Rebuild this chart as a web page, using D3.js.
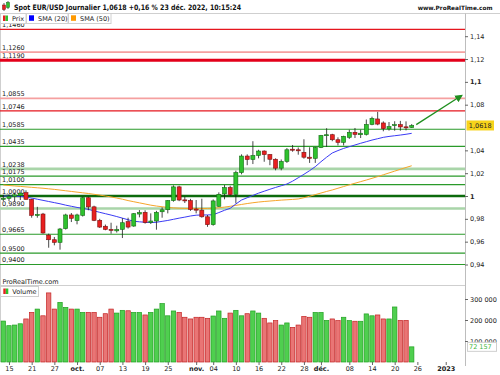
<!DOCTYPE html>
<html>
<head>
<meta charset="utf-8">
<script src="https://cdn.jsdelivr.net/npm/d3@7"></script>
<style>
  body { margin: 0; background: #fff; }
  svg { display: block; font-family: "DejaVu Sans", sans-serif; }
</style>
</head>
<body>
<script>
// séance du 14 sept. au 23 déc. 2022 (73 bougies)
var dates = ["14/09","15/09","16/09","19/09","20/09","21/09","22/09","23/09","26/09","27/09",
  "28/09","29/09","30/09","03/10","04/10","05/10","06/10","07/10","10/10","11/10",
  "12/10","13/10","14/10","17/10","18/10","19/10","20/10","21/10","24/10","25/10",
  "26/10","27/10","28/10","31/10","01/11","02/11","03/11","04/11","07/11","08/11",
  "09/11","10/11","11/11","14/11","15/11","16/11","17/11","18/11","21/11","22/11",
  "23/11","24/11","25/11","28/11","29/11","30/11","01/12","02/12","05/12","06/12",
  "07/12","08/12","09/12","12/12","13/12","14/12","15/12","16/12","19/12","20/12",
  "21/12","22/12","23/12"];

var open = [.9975,.9980,.9995,1.0005,1.0029,.9971,.9830,.9842,.9658,.9617,
  .9594,.9714,.9834,.9785,.9831,.9985,.9905,.9787,.9735,.9708,
  .9695,.9708,.9775,.9737,.9842,.9857,.9768,.9781,.9862,.9880,
  .9960,1.0080,.9966,.9960,.9886,.9876,.9818,.9749,.9910,1.0018,
  1.0074,1.0013,1.0205,1.0350,1.0320,1.0355,1.0394,1.0363,1.0322,1.0244,
  1.0303,1.0410,1.0405,1.0383,1.0340,1.0330,1.0425,1.0530,1.0537,1.0493,
  1.0470,1.0514,1.0558,1.0537,1.0540,1.0627,1.0675,1.0640,1.0588,1.0618,
  1.0625,1.0606,1.0600];
var high = [1.0010,1.0015,1.0030,1.0030,1.0050,.9976,.9905,.9852,.9670,.9641,
  .9720,.9845,.9851,.9845,.9995,.9995,.9915,.9800,.9750,.9766,
  .9740,.9806,.9810,.9850,.9877,.9875,.9848,.9870,.9900,.9965,
  1.0093,1.0090,.9994,.9975,.9965,.9976,.9834,.9970,1.0032,1.0096,
  1.0090,1.0222,1.0365,1.0365,1.0480,1.0405,1.0400,1.0368,1.0330,1.0320,
  1.0420,1.0447,1.0425,1.0497,1.0427,1.0430,1.0535,1.0594,1.0545,1.0514,
  1.0528,1.0581,1.0596,1.0581,1.0670,1.0695,1.0737,1.0654,1.0648,1.0655,
  1.0658,1.0654,1.0630];
var low = [.9955,.9955,.9950,.9965,.9968,.9810,.9810,.9670,.9547,.9568,
  .9530,.9706,.9772,.9752,.9820,.9875,.9780,.9720,.9700,.9670,
  .9680,.9632,.9715,.9730,.9813,.9758,.9755,.9705,.9810,.9848,
  .9950,.9955,.9939,.9870,.9848,.9810,.9730,.9740,.9905,.9971,
  1.0000,.9936,1.0190,1.0270,1.0280,1.0330,1.0300,1.0270,1.0225,1.0225,
  1.0290,1.0388,1.0362,1.0327,1.0290,1.0290,1.0420,1.0430,1.0480,1.0443,
  1.0443,1.0500,1.0508,1.0508,1.0530,1.0620,1.0620,1.0567,1.0573,1.0572,
  1.0572,1.0575,1.0596];
var close = [.9980,.9995,1.0010,1.0025,.9971,.9831,.9838,.9676,.9617,.9594,
  .9711,.9834,.9805,.9834,.9985,.9905,.9787,.9728,.9708,.9700,
  .9706,.9766,.9728,.9845,.9855,.9768,.9781,.9857,.9879,.9960,
  1.0080,.9965,.9962,.9882,.9876,.9818,.9749,.9957,1.0015,1.0074,
  1.0013,1.0205,1.0350,1.0320,1.0355,1.0394,1.0363,1.0322,1.0244,1.0303,
  1.0405,1.0404,1.0396,1.0340,1.0330,1.0425,1.0530,1.0537,1.0493,1.0470,
  1.0523,1.0558,1.0540,1.0550,1.0627,1.0680,1.0630,1.0590,1.0608,1.0625,
  1.0605,1.0598,1.0618];

var volume = [195000,173000,176000,182000,205000,236000,252000,220000,329000,252000,
  284000,260000,252000,252000,236000,236000,236000,213000,230000,252000,
  233000,246000,244000,236000,236000,224000,236000,252000,278000,220000,
  243000,236000,213000,205000,213000,213000,208000,219000,243000,208000,
  233000,246000,220000,230000,243000,233000,208000,186000,197000,176000,
  186000,165000,176000,217000,213000,236000,236000,198000,205000,197000,
  213000,197000,194000,194000,229000,220000,224000,205000,205000,262000,
  198000,198000,72157];

// moyennes mobiles
var sma20 = [1.0000,.9999,.9998,.9997,.9990,.9982,.9972,.9962,.9952,.9942,
  .9932,.9920,.9910,.9900,.9892,.9883,.9870,.9857,.9845,.9833,
  .9820,.9806,.9792,.9779,.9774,.9770,.9767,.9770,.9778,.9786,
  .9796,.9806,.9815,.9825,.9832,.9834,.9834,.9836,.9855,.9875,
  .9892,.9930,.9965,.9985,1.0005,1.0025,1.0042,1.0059,1.0075,1.0090,
  1.0105,1.0130,1.0160,1.0190,1.0222,1.0257,1.0300,1.0340,1.0377,1.0398,
  1.0417,1.0432,1.0447,1.0462,1.0476,1.0490,1.0502,1.0514,1.0522,1.0528,
  1.0534,1.0541,1.0549];
var sma50 = [1.0096,1.0092,1.0088,1.0084,1.0080,1.0076,1.0072,1.0068,1.0063,1.0058,
  1.0052,1.0046,1.0040,1.0034,1.0028,1.0022,1.0015,1.0008,1.0000,.9992,
  .9982,.9972,.9960,.9950,.9940,.9930,.9920,.9912,.9906,.9900,
  .9896,.9893,.9891,.9890,.9890,.9890,.9891,.9893,.9897,.9903,
  .9910,.9918,.9926,.9934,.9941,.9947,.9952,.9956,.9960,.9964,
  .9967,.9970,.9974,.9985,.9998,1.0012,1.0026,1.0040,1.0053,1.0068,
  1.0083,1.0098,1.0112,1.0126,1.0140,1.0155,1.0170,1.0186,1.0202,1.0218,
  1.0234,1.0250,1.0265];

// niveaux tracés (supports / résistances)
var levelValues = [1.1460,1.1260,1.1190,1.0855,1.0746,1.0585,1.0435,1.0238,1.0175,1.0100,1.0000,0.9890,0.9665,0.9500,0.9400];
var levelKinds  = ["r1","rz","r3","rz","r1","s1","s1","sz","s1","s1","s3","sz","s1","s1","s1"];

var priceTicks = [0.94,0.96,0.98,1,1.02,1.04,1.08,1.1,1.12,1.14];
var volumeTicks = [100000,200000,300000];
var dateTickIdx = [1,5,9,13,17,21,25,29,34,37,41,45,49,53,56,61,65,69,73,78];
var dateTickLabels = ["15","21","27","oct.","07","13","19","25","nov.","04","10","16","22","28","déc.","08","14","20","26","2023"];
var boldLabels = ["oct.","nov.","déc.","2023"];

var lastPrice = 1.0618, lastVolume = 72157;
var arrowFrom = [72.8, 1.0625], arrowTo = [80.8, 1.0880];

var width = 500, height = 375;
var axisX = 465;
var plotTop = 14, plotBottom = 273;
var green = "#2ec22e", greenDark = "#146c14", red = "#e82020", redDark = "#7c1010";

var locale = d3.formatLocale({ decimal: ",", thousands: " ", grouping: [3] });
var fmtPrice = locale.format(".2~f");
var fmtLevel = locale.format(".4f");
var fmtVol = locale.format(",");

var svg = d3.select("body").append("svg")
    .attr("width", width)
    .attr("height", height);

var x = d3.scaleLinear().domain([0, 72]).range([3.3, 411.7]);
var y = d3.scaleLinear().domain([0.94, 1.14]).range([264.5, 36.2]);
var yv = d3.scaleLinear().domain([0, 300000]).range([362, 299]);

var defs = svg.append("defs");
defs.append("clipPath").attr("id", "clipMain")
    .append("rect").attr("x", 0).attr("y", plotTop).attr("width", axisX).attr("height", plotBottom - plotTop);
defs.append("marker").attr("id", "arrowHead")
    .attr("viewBox", "0 0 10 10").attr("refX", 8).attr("refY", 5)
    .attr("markerWidth", 6).attr("markerHeight", 6).attr("orient", "auto")
    .append("path").attr("d", "M0,0 L10,5 L0,10 z").attr("fill", "#1f8f1f");

// cadres
svg.append("line").attr("x1", 0).attr("x2", width).attr("y1", 13.5).attr("y2", 13.5).attr("stroke", "#cfcfcf");
svg.append("line").attr("x1", 0.5).attr("x2", 0.5).attr("y1", 13.5).attr("y2", 362).attr("stroke", "#cfcfcf");
svg.append("line").attr("x1", axisX + 0.5).attr("x2", axisX + 0.5).attr("y1", 13.5).attr("y2", 366).attr("stroke", "#bdbdbd");
svg.append("line").attr("x1", 0).attr("x2", axisX).attr("y1", 285.5).attr("y2", 285.5).attr("stroke", "#cfcfcf");

// titre
var icon = svg.append("g");
icon.append("line").attr("x1", 4).attr("x2", 4).attr("y1", 3).attr("y2", 11).attr("stroke", "#333").attr("stroke-width", 0.8);
icon.append("rect").attr("x", 2.5).attr("y", 5).attr("width", 3).attr("height", 4.5).attr("fill", red).attr("stroke", redDark).attr("stroke-width", 0.5);
icon.append("line").attr("x1", 8).attr("x2", 8).attr("y1", 1).attr("y2", 9).attr("stroke", "#333").attr("stroke-width", 0.8);
icon.append("rect").attr("x", 6.5).attr("y", 2.5).attr("width", 3).attr("height", 5).attr("fill", green).attr("stroke", greenDark).attr("stroke-width", 0.5);

svg.append("text")
    .text("Spot EUR/USD Journalier 1,0618 +0,16 % 23 déc. 2022, 10:15:24")
    .attr("x", 14).attr("y", 9.8)
    .attr("textLength", 227).attr("lengthAdjust", "spacingAndGlyphs")
    .style("font-size", "7.4px").style("font-weight", "bold").attr("fill", "#111");
svg.append("text")
    .text("www.ProRealTime.com")
    .attr("x", 492.5).attr("y", 9.8)
    .attr("text-anchor", "end")
    .style("font-size", "5.8px").style("font-weight", "bold").attr("fill", "#111");

// légende
function legendBox(x0, w, label, drawIcon) {
    var g = svg.append("g");
    g.append("rect").attr("x", x0 + 0.5).attr("y", 13.5).attr("width", w).attr("height", 10)
        .attr("fill", "#fff").attr("stroke", "#d0d0d0");
    drawIcon(g, x0 + 3);
    g.append("text").text(label).attr("x", x0 + 12).attr("y", 21.3)
        .style("font-size", "6.5px").attr("fill", "#222");
}
function splitIcon(g, xi, yi) {
    g.append("rect").attr("x", xi).attr("y", yi).attr("width", 2.5).attr("height", 5.5).attr("fill", red);
    g.append("rect").attr("x", xi + 2.5).attr("y", yi).attr("width", 2.5).attr("height", 5.5).attr("fill", green);
}

// panneau principal
var main = svg.append("g").attr("clip-path", "url(#clipMain)");

var levelStyle = {
    r1: { stroke: "#e5161e", w: 1.2 },
    rz: { stroke: "#f5a0a0", w: 1.8 },
    r3: { stroke: "#e3001a", w: 3 },
    s1: { stroke: "#2a9a2a", w: 1.2 },
    sz: { stroke: "#a9d5a9", w: 2.6 },
    s3: { stroke: "#0c6a0c", w: 2.6 }
};

main.selectAll("line.level")
    .data(levelValues)
    .enter()
    .append("line")
    .attr("class", "level")
    .attr("x1", 0).attr("x2", axisX)
    .attr("y1", d => y(d)).attr("y2", d => y(d))
    .attr("stroke", (d, i) => levelStyle[levelKinds[i]].stroke)
    .attr("stroke-width", (d, i) => levelStyle[levelKinds[i]].w);

main.selectAll("text.level-label")
    .data(levelValues)
    .enter()
    .append("text")
    .attr("class", "level-label")
    .text(d => fmtLevel(d))
    .attr("x", 2)
    .attr("y", d => y(d) - 2.2)
    .style("font-size", "6.5px")
    .attr("fill", "#222");

var idx = d3.range(dates.length);

var smaLine = d3.line().x((d, i) => x(i)).y(d => y(d));
main.append("path").datum(sma50).attr("d", smaLine)
    .attr("fill", "none").attr("stroke", "#f6a52a").attr("stroke-width", 1);
main.append("path").datum(sma20).attr("d", smaLine)
    .attr("fill", "none").attr("stroke", "#3b3bf5").attr("stroke-width", 1);

// bougies
var candles = main.selectAll("g.candle")
    .data(idx)
    .enter()
    .append("g")
    .attr("class", "candle");

candles.append("line")
    .attr("x1", i => x(i)).attr("x2", i => x(i))
    .attr("y1", i => y(high[i])).attr("y2", i => y(low[i]))
    .attr("stroke", "#1a1a1a").attr("stroke-width", 0.8);

candles.append("rect")
    .attr("x", i => x(i) - 2)
    .attr("width", 4)
    .attr("y", i => y(Math.max(open[i], close[i])))
    .attr("height", i => Math.max(1, Math.abs(y(open[i]) - y(close[i]))))
    .attr("fill", i => close[i] >= open[i] ? green : red)
    .attr("stroke", i => close[i] >= open[i] ? greenDark : redDark)
    .attr("stroke-width", 0.6);

// flèche
main.append("line")
    .attr("x1", x(arrowFrom[0])).attr("y1", y(arrowFrom[1]))
    .attr("x2", x(arrowTo[0])).attr("y2", y(arrowTo[1]))
    .attr("stroke", "#1f8f1f").attr("stroke-width", 1.3)
    .attr("marker-end", "url(#arrowHead)");

// légende par-dessus le panneau
legendBox(0, 25.5, "Prix", function(g, xi) { splitIcon(g, xi, 15.5); });
legendBox(26, 41.5, "SMA (20)", function(g, xi) {
    g.append("rect").attr("x", xi).attr("y", 15.3).attr("width", 5).attr("height", 5.5).attr("fill", "#0000ff");
});
legendBox(68, 42.5, "SMA (50)", function(g, xi) {
    g.append("rect").attr("x", xi).attr("y", 15.3).attr("width", 5).attr("height", 5.5).attr("fill", "#ff9900");
});

// axe des prix
var yAxis = svg.append("g")
    .attr("transform", "translate(" + axisX + ",0)")
    .call(d3.axisRight(y).tickValues(priceTicks).tickSize(3).tickPadding(2).tickFormat(fmtPrice));
yAxis.select(".domain").remove();
yAxis.selectAll("line").attr("stroke", "#666");
yAxis.selectAll("text")
    .style("font-size", "6.5px")
    .style("font-family", "DejaVu Sans, sans-serif")
    .style("font-weight", d => (d === 1 || d === 1.1) ? "bold" : "normal")
    .attr("fill", "#222");

// étiquette du dernier cours
var py = y(lastPrice);
svg.append("rect").attr("x", axisX + 1.5).attr("y", py - 5).attr("width", 27.5).attr("height", 10)
    .attr("fill", "#f7d31a");
svg.append("text").text(fmtLevel(lastPrice))
    .attr("x", axisX + 15.2).attr("y", py + 2.3)
    .attr("text-anchor", "middle")
    .style("font-size", "6.5px").attr("fill", "#222");

// panneau volume
svg.append("text").text("ProRealTime.com")
    .attr("x", 2.5).attr("y", 284)
    .style("font-size", "6.5px").attr("fill", "#222");

var vg = svg.append("g");
vg.append("rect").attr("x", 0.5).attr("y", 286.5).attr("width", 38).attr("height", 10)
    .attr("fill", "#fff").attr("stroke", "#d0d0d0");
splitIcon(vg, 3.3, 288.5);
vg.append("text").text("Volume").attr("x", 12.3).attr("y", 294.3)
    .style("font-size", "6.5px").attr("fill", "#222");

svg.selectAll("rect.vol")
    .data(idx)
    .enter()
    .append("rect")
    .attr("class", "vol")
    .attr("x", i => x(i) - 2.2)
    .attr("width", 4.4)
    .attr("y", i => yv(volume[i]))
    .attr("height", i => yv(0) - yv(volume[i]))
    .attr("fill", i => close[i] >= open[i] ? "#4fcf4f" : "#e97575")
    .attr("stroke", i => close[i] >= open[i] ? "#21a021" : "#c42424")
    .attr("stroke-width", 0.7);

var vAxis = svg.append("g")
    .attr("transform", "translate(" + axisX + ",0)")
    .call(d3.axisRight(yv).tickValues(volumeTicks).tickSize(3).tickPadding(2).tickFormat(fmtVol));
vAxis.select(".domain").remove();
vAxis.selectAll("line").attr("stroke", "#666");
vAxis.selectAll("text").style("font-size", "6.5px").style("font-family", "DejaVu Sans, sans-serif").attr("fill", "#222");

var vy = yv(lastVolume);
svg.append("rect").attr("x", axisX + 2.5).attr("y", vy - 4.5).attr("width", 29).attr("height", 9)
    .attr("fill", "#fff").attr("stroke", "#cfcfcf");
svg.append("text").text(fmtVol(lastVolume))
    .attr("x", axisX + 4).attr("y", vy + 2.3)
    .style("font-size", "6.5px").attr("fill", "#3db53d");

// axe des dates
var xAxis = svg.append("g")
    .attr("transform", "translate(0,362)")
    .call(d3.axisBottom(x).tickValues(dateTickIdx).tickSize(3).tickPadding(1.5)
        .tickFormat((d, i) => dateTickLabels[i]));
xAxis.select(".domain").remove();
xAxis.selectAll("line").attr("stroke", "#666");
xAxis.selectAll("text")
    .style("font-size", "6.5px")
    .style("font-family", "DejaVu Sans, sans-serif")
    .style("font-weight", (d, i) => boldLabels.indexOf(dateTickLabels[i]) >= 0 ? "bold" : "normal")
    .attr("fill", "#222");
</script>
</body>
</html>
